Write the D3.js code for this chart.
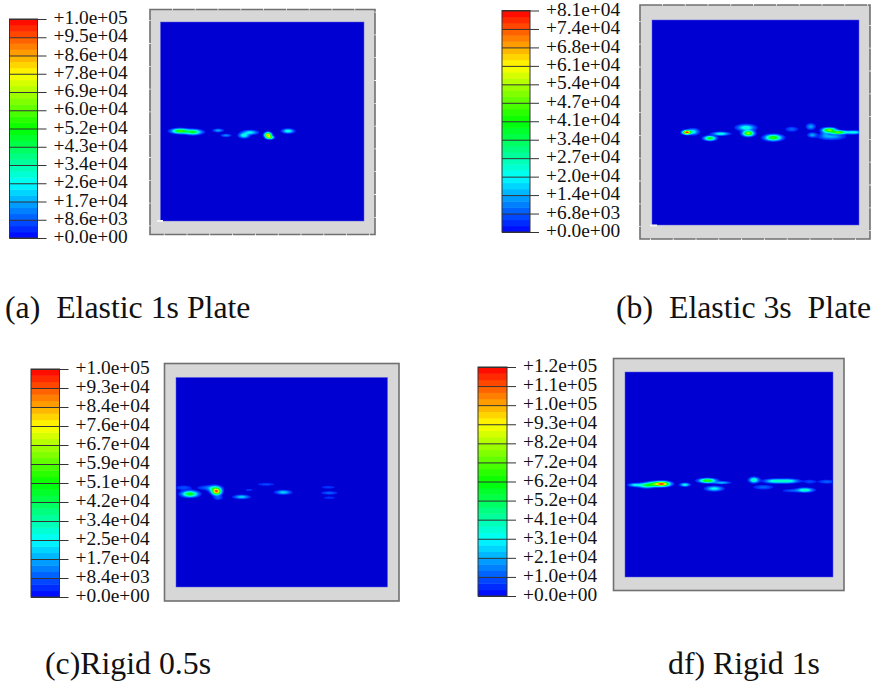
<!DOCTYPE html>
<html>
<head>
<meta charset="utf-8">
<script src="https://cdn.jsdelivr.net/npm/d3@7"></script>
<style>
	html, body { margin: 0; padding: 0; background: #fff; }
	text { font-family: "Liberation Serif", serif; fill: #111; white-space: pre; }
	.tick text { font-size: 19.4px; }
	.caption { font-size: 31.8px; }
</style>
</head>
<body>
<svg id="myGraph" width="877" height="686"></svg>
<script>
// colour bar tick labels, bottom to top
var ticksA = ["+0.0e+00","+8.6e+03","+1.7e+04","+2.6e+04","+3.4e+04","+4.3e+04","+5.2e+04","+6.0e+04","+6.9e+04","+7.8e+04","+8.6e+04","+9.5e+04","+1.0e+05"];
var ticksB = ["+0.0e+00","+6.8e+03","+1.4e+04","+2.0e+04","+2.7e+04","+3.4e+04","+4.1e+04","+4.7e+04","+5.4e+04","+6.1e+04","+6.8e+04","+7.4e+04","+8.1e+04"];
var ticksC = ["+0.0e+00","+8.4e+03","+1.7e+04","+2.5e+04","+3.4e+04","+4.2e+04","+5.1e+04","+5.9e+04","+6.7e+04","+7.6e+04","+8.4e+04","+9.3e+04","+1.0e+05"];
var ticksD = ["+0.0e+00","+1.0e+04","+2.1e+04","+3.1e+04","+4.1e+04","+5.2e+04","+6.2e+04","+7.2e+04","+8.2e+04","+9.3e+04","+1.0e+05","+1.1e+05","+1.2e+05"];

// largest value of each colour bar
var maxA = 100000, maxB = 81000, maxC = 100000, maxD = 120000;

// stress spots: x, y, spread x, spread y (0-100 across the plate), peak value
var spotsA = [
	[9.6,54.8,2.5,0.7,58000],[16,55.3,2.5,0.75,48000],[28.3,54.5,1.5,0.5,18000],[32.2,57,1.5,0.45,15000],
	[41,57,1.5,0.75,30000],[44,55.5,2.2,0.65,26000],[52.8,56.8,1,0.75,85000],[53.8,58,1.1,0.5,50000],[62.7,54.8,1.7,0.65,30000]
];
var spotsB = [
	[16.8,54.8,1.2,0.55,80000],[19.8,54.5,1.7,0.9,20000],[28,57.7,1.7,0.65,42000],[33.2,55.5,2.4,0.5,24000],
	[45.4,52.5,2.6,0.9,24000],[46.5,55.3,1.6,0.8,56000],[58.6,57.4,2.4,0.85,46000],[67.5,53.3,1.9,0.75,8000],
	[76.7,52,1.3,0.9,14000],[77.4,56.1,1.3,0.7,14000],[85.7,53.7,1.9,0.63,52000],[90,54.8,2.4,0.5,50000],
	[97.3,54.8,2.4,0.5,24000],[86.8,56.9,3.6,0.9,14000],[83.6,55.1,1.3,1.3,9000]
];
var spotsC = [
	[6.6,55.6,2.3,0.85,52000],[3.5,52.6,2.4,0.7,8000],[19.2,54.5,1.3,0.95,82000],[18.4,53.2,1.8,0.95,35000],
	[14.5,52.6,2.8,0.7,9000],[19.9,57.4,1.4,0.7,9000],[31,57,2.2,0.55,22000],[34.6,53.7,1.4,0.5,5000],
	[42.6,51,2.8,0.5,7000],[50.7,54.8,2.2,0.6,22000],[72,52.4,2.4,0.5,6000],[72.5,55.1,2.4,0.5,10000],[72.5,57.4,2.4,0.5,5000]
];
var spotsD = [
	[4.8,55.1,1.9,0.5,30000],[10.4,55.3,2.4,0.7,50000],[18.1,54.6,2.2,0.7,100000],[14.4,54.6,2.4,0.7,48000],
	[28.8,55,1.4,0.5,34000],[39.6,53,2.4,0.6,70000],[46.5,54,2.4,0.4,24000],[42.9,56.9,2.4,0.7,32000],
	[62,52.7,1.4,0.8,42000],[72,53.2,3,0.6,36000],[78.5,53.2,3,0.6,36000],[66.5,56.2,2.9,0.7,12000],
	[86.5,57.6,2.4,0.6,40000],[80.1,57.9,2.9,0.5,10000],[88.9,53.5,1.9,0.7,8000],[97,53.5,2.4,0.6,12000],[92.2,49.4,1.4,0.7,3000]
];

var captions = ["(a)  Elastic 1s Plate", "(b)  Elastic 3s  Plate", "(c)Rigid 0.5s", "df) Rigid 1s"];

// layout of the four panels (page pixels)
var panels = [
	{ ticks: ticksA, max: maxA, spots: spotsA, caption: captions[0], capX: 5, capY: 317.5, dash: "22 0.8", notch: [157, 220, 6, 2],
		bar: [9.5, 37.5, 19, 238], frame: [150, 375, 9.5, 234.5], plate: [160.5, 364, 22, 221] },
	{ ticks: ticksB, max: maxB, spots: spotsB, caption: captions[1], capX: 616, capY: 317.5, dash: "22 0.8", notch: [650, 224.5, 7, 2],
		bar: [502, 530, 10.5, 232], frame: [640, 870, 5, 239], plate: [652, 859, 20, 225] },
	{ ticks: ticksC, max: maxC, spots: spotsC, caption: captions[2], capX: 45, capY: 674, dash: null, notch: null,
		bar: [31, 59.5, 369, 597], frame: [164.5, 399, 363.5, 601], plate: [176, 387.5, 377.5, 587] },
	{ ticks: ticksD, max: maxD, spots: spotsD, caption: captions[3], capX: 668, capY: 674, dash: null, notch: null,
		bar: [478, 507, 367, 596], frame: [613.5, 844, 358.5, 590.5], plate: [625, 833, 372, 577] }
];

// rainbow used by the colour bar and the contours
var rainbow = d3.scaleLinear()
	.domain([0, 0.25, 0.5, 0.75, 1])
	.range(["#0000ff", "#00ffff", "#00ff00", "#ffff00", "#ff0000"]);

var svg = d3.select("#myGraph");
var defs = svg.append("defs");
defs.append("filter").attr("id", "soft")
	.append("feGaussianBlur").attr("stdDeviation", 0.5);

panels.forEach(function(p, idx){
	var g = svg.append("g");

	// colour bar: 12 intervals of 3 shades each
	var barY = d3.scaleLinear().domain([0, 12]).range([p.bar[3], p.bar[2]]);
	var shades = d3.range(36);
	g.selectAll("rect.band").data(shades).enter().append("rect")
		.attr("class", "band")
		.attr("x", p.bar[0])
		.attr("width", p.bar[1] - p.bar[0])
		.attr("y", function(d){ return barY((d + 1) / 3); })
		.attr("height", function(d){ return barY(d / 3) - barY((d + 1) / 3) + 0.5; })
		.attr("fill", function(d){ return rainbow((d + 0.5) / 36); });
	g.append("rect")
		.attr("x", p.bar[0]).attr("y", p.bar[2])
		.attr("width", p.bar[1] - p.bar[0]).attr("height", p.bar[3] - p.bar[2])
		.attr("fill", "none").attr("stroke", "#333").attr("stroke-width", 1);

	var axis = d3.axisRight(barY)
		.tickValues(d3.range(13))
		.tickSize(p.bar[1] - p.bar[0] + 9)
		.tickPadding(7)
		.tickFormat(function(d){ return p.ticks[d]; });
	var ax = g.append("g").attr("transform", "translate(" + p.bar[0] + ",0)").call(axis);
	ax.select(".domain").remove();
	ax.selectAll("line").attr("stroke", "#333").attr("stroke-width", 1);
	ax.selectAll("text").attr("dy", "0.24em");

	// frame round the plate
	g.append("rect")
		.attr("x", p.frame[0]).attr("y", p.frame[2])
		.attr("width", p.frame[1] - p.frame[0]).attr("height", p.frame[3] - p.frame[2])
		.attr("fill", "#d7d7d7").attr("stroke", "#707070").attr("stroke-width", 1.6)
		.attr("stroke-dasharray", p.dash);

	// plate
	var x = d3.scaleLinear().domain([0, 100]).range([p.plate[0], p.plate[1]]);
	var y = d3.scaleLinear().domain([0, 100]).range([p.plate[2], p.plate[3]]);
	var w = x(100) - x(0), h = y(100) - y(0);
	g.append("rect")
		.attr("x", x(0)).attr("y", y(0)).attr("width", w).attr("height", h)
		.attr("fill", "#0000d2").attr("stroke", "#5a5ae6").attr("stroke-width", 0.5);
	if(p.notch){
		g.append("rect")
			.attr("x", p.notch[0]).attr("y", p.notch[1])
			.attr("width", p.notch[2]).attr("height", p.notch[3])
			.attr("fill", "#f4f4f4");
	}

	// stress field on a grid, then filled contours
	var nx = Math.round(w * 2), ny = Math.round(h * 2);
	var field = new Float64Array(nx * ny);
	for(var j=0; j<ny; j++){
		for(var i=0; i<nx; i++){
			var u = (i + 0.5) / nx * 100, v = (j + 0.5) / ny * 100, sum = 0;
			p.spots.forEach(function(s){
				var dx = (u - s[0]) / s[2], dy = (v - s[1]) / s[3];
				sum += s[4] * Math.exp(-0.5 * (dx * dx + dy * dy));
			});
			field[j * nx + i] = sum;
		}
	}
	var levels = d3.range(1, 36).map(function(d){ return d / 36 * p.max; });
	var contours = d3.contours().size([nx, ny]).thresholds(levels)(field);

	defs.append("clipPath").attr("id", "clip" + idx)
		.append("rect").attr("x", x(0)).attr("y", y(0)).attr("width", w).attr("height", h);

	g.append("g").attr("clip-path", "url(#clip" + idx + ")")
		.append("g").attr("filter", "url(#soft)")
		.attr("transform", "translate(" + x(0) + "," + y(0) + ") scale(" + (w / nx) + "," + (h / ny) + ")")
		.selectAll("path").data(contours).enter().append("path")
		.attr("d", d3.geoPath())
		.attr("fill", function(d){ return rainbow((d.value + 0.5 * p.max / 36) / p.max); });

	g.append("text").attr("class", "caption")
		.attr("x", p.capX).attr("y", p.capY)
		.text(p.caption);
});
</script>
</body>
</html>
